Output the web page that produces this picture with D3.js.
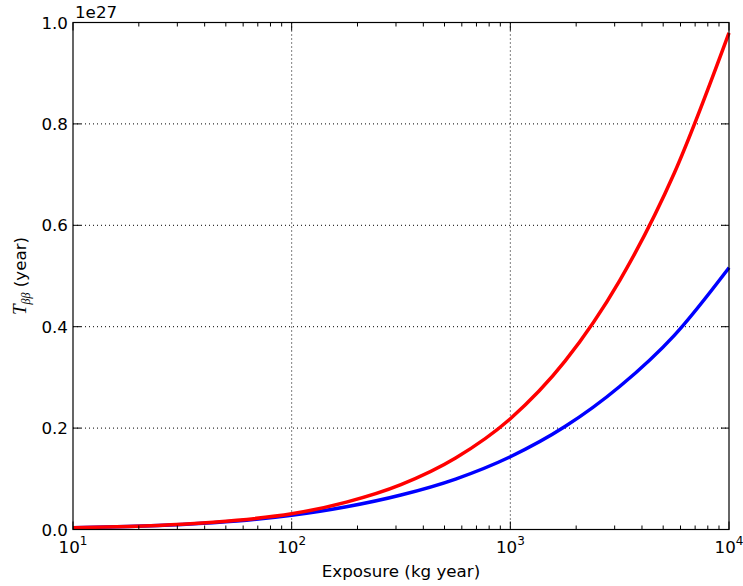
<!DOCTYPE html>
<html>
<head>
<meta charset="utf-8">
<script src="https://cdn.jsdelivr.net/npm/d3@7"></script>
<style>
body { margin: 0; background: #fff; }
text { font-family: "DejaVu Sans", sans-serif; fill: #000; }
</style>
</head>
<body>
<svg id="chart" width="743" height="586"></svg>
<script>
// exposure (kg year), read at quarter decades
const exposure = [10, 17.8, 31.6, 56.2, 100, 178, 316, 562, 1000, 1778, 3162, 5623, 10000];
// half-life, units of 1e27 year
const redT = [0.0035, 0.0060, 0.0105, 0.0181, 0.0310, 0.0540, 0.0885, 0.1410, 0.2185, 0.3320, 0.4910, 0.7030, 0.9795];
const blueT = [0.0035, 0.0058, 0.0098, 0.0166, 0.0280, 0.0448, 0.0680, 0.0995, 0.1435, 0.2030, 0.2820, 0.3830, 0.5164];
const yTicks = [0.0, 0.2, 0.4, 0.6, 0.8, 1.0];
const xTicks = [1e1, 1e2, 1e3, 1e4];

const svg = d3.select("#chart");
const m = {left: 73, right: 729, top: 22.5, bottom: 529.5};

const x = d3.scaleLog().domain([10, 1e4]).range([m.left, m.right]);
const y = d3.scaleLinear().domain([0, 1]).range([m.bottom, m.top]);

svg.append("rect").attr("width", 743).attr("height", 586).attr("fill", "#fff");

// grid
const grid = svg.append("g").attr("stroke", "#000").attr("stroke-width", 1)
  .attr("stroke-dasharray", "1,3").attr("fill", "none");
xTicks.slice(1, -1).forEach(t => {
  grid.append("line").attr("x1", x(t)).attr("x2", x(t)).attr("y1", m.top).attr("y2", m.bottom);
});
yTicks.slice(1, -1).forEach(t => {
  grid.append("line").attr("x1", m.left).attr("x2", m.right).attr("y1", y(t)).attr("y2", y(t));
});

// curves
const line = (vals) => d3.line()
  .x((d, i) => x(exposure[i]))
  .y(d => y(d))
  .curve(d3.curveMonotoneX)(vals);

svg.append("path").attr("d", line(blueT)).attr("fill", "none")
  .attr("stroke", "#0000ff").attr("stroke-width", 3.5);
svg.append("path").attr("d", line(redT)).attr("fill", "none")
  .attr("stroke", "#ff0000").attr("stroke-width", 3.5);

// ticks (inside, all sides)
const tk = svg.append("g").attr("stroke", "#000").attr("stroke-width", 1);
yTicks.forEach(t => {
  tk.append("line").attr("x1", m.left).attr("x2", m.left + 8).attr("y1", y(t)).attr("y2", y(t));
  tk.append("line").attr("x1", m.right).attr("x2", m.right - 8).attr("y1", y(t)).attr("y2", y(t));
});
xTicks.forEach(t => {
  tk.append("line").attr("x1", x(t)).attr("x2", x(t)).attr("y1", m.bottom).attr("y2", m.bottom - 8);
  tk.append("line").attr("x1", x(t)).attr("x2", x(t)).attr("y1", m.top).attr("y2", m.top + 8);
});
for (let d = 1; d < 4; d++) {
  for (let k = 2; k < 10; k++) {
    const v = k * Math.pow(10, d);
    tk.append("line").attr("x1", x(v)).attr("x2", x(v)).attr("y1", m.bottom).attr("y2", m.bottom - 4);
    tk.append("line").attr("x1", x(v)).attr("x2", x(v)).attr("y1", m.top).attr("y2", m.top + 4);
  }
}

// frame
svg.append("rect").attr("x", m.left).attr("y", m.top)
  .attr("width", m.right - m.left).attr("height", m.bottom - m.top)
  .attr("fill", "none").attr("stroke", "#000").attr("stroke-width", 1.2);

// tick labels
const fs = 16.7;
yTicks.forEach(t => {
  svg.append("text").attr("x", m.left - 5).attr("y", y(t) + 6)
    .attr("text-anchor", "end").attr("font-size", fs).text(t.toFixed(1));
});
xTicks.forEach(t => {
  const tx = svg.append("text").attr("x", x(t)).attr("y", 553)
    .attr("text-anchor", "middle").attr("font-size", fs);
  tx.append("tspan").text("10");
  tx.append("tspan").attr("font-size", 12).attr("dy", -8).text(Math.round(Math.log10(t)));
});

// offset text
svg.append("text").attr("x", m.left + 2).attr("y", 18).attr("font-size", fs).text("1e27");

// axis labels
svg.append("text").attr("x", (m.left + m.right) / 2).attr("y", 577)
  .attr("text-anchor", "middle").attr("font-size", fs).text("Exposure (kg year)");

const yl = svg.append("text").attr("transform", "translate(26,276) rotate(-90)")
  .attr("text-anchor", "middle").attr("font-size", fs);
yl.append("tspan").attr("font-family", "Liberation Serif, serif").attr("font-style", "italic")
  .attr("font-size", 19).text("T");
yl.append("tspan").attr("font-family", "Liberation Serif, serif").attr("font-style", "italic")
  .attr("font-size", 12).attr("dy", 4).text("ββ");
yl.append("tspan").attr("dy", -4).text(" (year)");
</script>
</body>
</html>
